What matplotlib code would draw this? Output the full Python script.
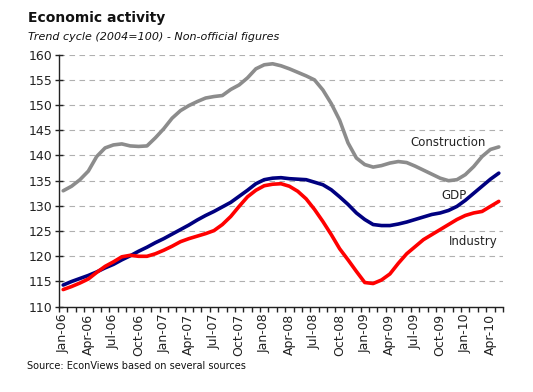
import matplotlib
matplotlib.use("Agg")
import matplotlib.pyplot as plt
import numpy as np
import pandas as pd

# ---- data ----
months = pd.date_range("2006-01-01", "2010-05-01", freq="MS")
tick_labels = ["Jan-06", "Apr-06", "Jul-06", "Oct-06", "Jan-07", "Apr-07", "Jul-07",
               "Oct-07", "Jan-08", "Apr-08", "Jul-08", "Oct-08", "Jan-09", "Apr-09",
               "Jul-09", "Oct-09", "Jan-10", "Apr-10"]

construction = [133.0, 133.9, 135.2, 136.9, 139.8, 141.5, 142.1, 142.3, 141.9, 141.8,
                141.9, 143.5, 145.3, 147.4, 148.9, 149.9, 150.7, 151.4, 151.7, 151.9,
                153.1, 154.0, 155.4, 157.2, 158.0, 158.2, 157.8, 157.2, 156.5, 155.8,
                155.0, 153.0, 150.3, 147.0, 142.5, 139.5, 138.2, 137.7, 138.0, 138.5,
                138.8, 138.6, 137.9, 137.1, 136.3, 135.5, 135.0, 135.2, 136.2, 137.8,
                139.8, 141.2, 141.7]
gdp = [114.3, 115.0, 115.6, 116.2, 116.9, 117.7, 118.4, 119.3, 120.1, 121.0,
       121.8, 122.7, 123.5, 124.4, 125.3, 126.2, 127.2, 128.1, 128.9, 129.8,
       130.7, 131.9, 133.1, 134.4, 135.2, 135.5, 135.6, 135.4, 135.3, 135.2,
       134.7, 134.2, 133.2, 131.8, 130.3, 128.6, 127.3, 126.3, 126.1, 126.1,
       126.4, 126.8, 127.3, 127.8, 128.3, 128.6, 129.1, 129.9, 131.1, 132.5,
       133.9, 135.3, 136.5]
industry = [113.4, 114.0, 114.7, 115.5, 116.8, 118.0, 118.9, 119.9, 120.2, 120.0,
            120.0, 120.5, 121.2, 122.0, 122.9, 123.5, 124.0, 124.5, 125.1, 126.3,
            127.9, 129.9, 131.8, 133.1, 134.0, 134.3, 134.4, 133.9, 132.9, 131.4,
            129.3, 126.9, 124.3, 121.5, 119.3, 117.0, 114.8, 114.6, 115.3, 116.5,
            118.6, 120.5, 121.9, 123.3, 124.3, 125.3, 126.3, 127.3, 128.1, 128.6,
            128.9, 129.9, 130.9]

series_names = ["Construction", "GDP", "Industry"]
series_colors = ["#8c8c8c", "#000080", "#ff0000"]

# ---- figure ----
fig = plt.figure(figsize=(5.33, 3.92), dpi=100)
ax = fig.add_axes([59 / 533, 1 - 306.7 / 392, 444 / 533, 252 / 392])

x = np.arange(len(months))
for vals, col in zip([construction, gdp, industry], series_colors):
    ax.plot(x, vals, color=col, lw=2.6, solid_capstyle="round", zorder=3)

ax.set_xlim(-0.5, len(months) - 0.5)
ax.set_ylim(110, 160)
ax.set_yticks(np.arange(110, 161, 5))
ax.tick_params(axis="y", direction="inout", length=6, width=1, labelsize=9,
               pad=2, colors="#222222")

# x: tick marks at category boundaries, labels every 3 months at centres
ax.set_xticks(np.arange(-0.5, len(months), 1.0))
ax.set_xticklabels([])
ax.tick_params(axis="x", which="major", direction="out", length=3.5, width=1,
               colors="#222222")
ax.set_xticks(np.arange(0, len(months), 3), minor=True)
ax.set_xticklabels(tick_labels, minor=True, rotation=90, fontsize=9,
                   color="#222222")
ax.tick_params(axis="x", which="minor", length=0, pad=5)

ax.grid(axis="y", linestyle=(0, (5, 4)), linewidth=0.8, color="#b0b0b0", zorder=1)
ax.set_axisbelow(True)

for s in ["top", "right"]:
    ax.spines[s].set_visible(False)
for s in ["left", "bottom"]:
    ax.spines[s].set_color("#222222")
    ax.spines[s].set_linewidth(1.0)

# series labels
ax.text(46.0, 142.6, series_names[0], ha="center", va="center", fontsize=8.5,
        color="#222222")
ax.text(46.6, 132.0, series_names[1], ha="center", va="center", fontsize=8.5,
        color="#222222")
ax.text(49.0, 123.0, series_names[2], ha="center", va="center", fontsize=8.5,
        color="#222222")

# titles & source
fig.text(28 / 533, 1 - 11 / 392, "Economic activity", fontsize=10, fontweight="bold",
         ha="left", va="top", color="#111111")
fig.text(28 / 533, 1 - 32 / 392, "Trend cycle (2004=100) - Non-official figures",
         fontsize=8, style="italic", ha="left", va="top", color="#111111")
fig.text(27 / 533, 1 - 366 / 392, "Source: EconViews based on several sources",
         fontsize=7, ha="left", va="center", color="#111111")

fig.savefig("out.png", dpi=100)
